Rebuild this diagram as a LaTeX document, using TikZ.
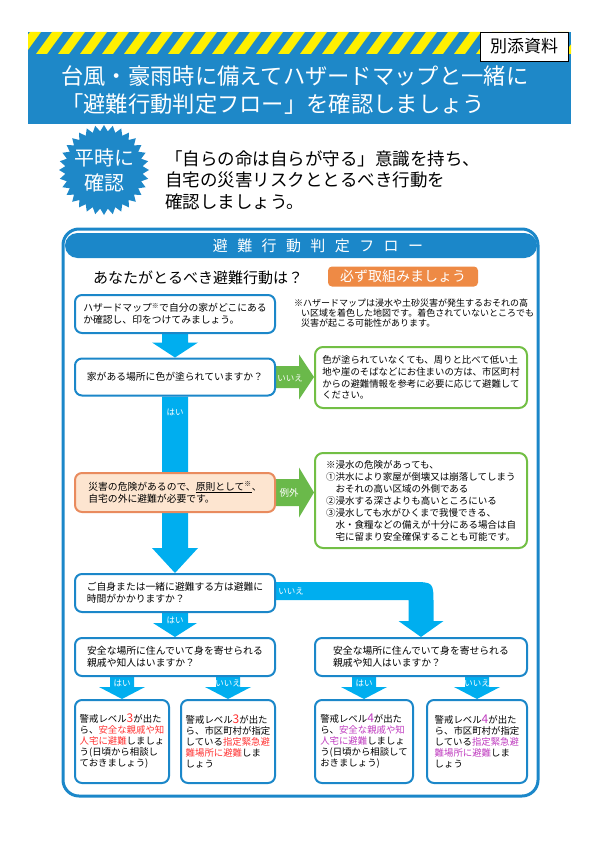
\documentclass[tikz,border=0pt]{standalone}
\usepackage{fontspec}
\setmainfont{Noto Sans CJK JP}
\usepackage{xcolor}
\usetikzlibrary{calc, positioning, shapes.geometric, backgrounds}

\definecolor{hdblue}{HTML}{1E88C8}
\definecolor{frblue}{HTML}{1B87C9}
\definecolor{cyanA}{HTML}{00AEEF}
\definecolor{grnA}{HTML}{6AB94A}
\definecolor{grnbox}{HTML}{72BF45}
\definecolor{orgpill}{HTML}{EE8A45}
\definecolor{orgfill}{HTML}{FDE5D0}
\definecolor{orgline}{HTML}{E98B5E}
\definecolor{stripeY}{HTML}{FFF000}
\definecolor{lvred}{HTML}{FF3333}
\definecolor{lvpur}{HTML}{C03CC0}

\newcommand{\gap}{\hspace{9.4pt}}
\newcommand{\lvnum}[2]{\textcolor{#1}{\fontsize{12}{11}\selectfont #2}}
% block arrows: colour, from, to, shaft half, head half, head length
\newcommand{\arrdown}[6]{%
  \fill[#1] let \p1=(#2), \p2=(#3) in
    (\x2-#4pt,\y1) -- (\x2+#4pt,\y1) -- (\x2+#4pt,\y2+#6pt) -- (\x2+#5pt,\y2+#6pt)
    -- (\x2,\y2) -- (\x2-#5pt,\y2+#6pt) -- (\x2-#4pt,\y2+#6pt) -- cycle;}
\newcommand{\arrright}[6]{%
  \fill[#1] let \p1=(#2), \p2=(#3) in
    (\x1,\y1+#4pt) -- (\x2-#6pt,\y1+#4pt) -- (\x2-#6pt,\y1+#5pt) -- (\x2,\y1)
    -- (\x2-#6pt,\y1-#5pt) -- (\x2-#6pt,\y1-#4pt) -- (\x1,\y1-#4pt) -- cycle;}

\tikzset{
  flowbox/.style={draw=frblue, line width=2pt, rounded corners=7pt, fill=white,
    align=left, minimum width=200, font=\fontsize{9.8}{12}\selectfont},
  greenbox/.style={draw=grnbox, line width=2pt, rounded corners=8pt, fill=white,
    align=left, minimum width=212, font=\fontsize{9.4}{11.7}\selectfont},
  levelbox/.style={draw=frblue, line width=2pt, rounded corners=7pt, fill=white,
    align=left, minimum height=83, inner sep=2pt, font=\fontsize{9.4}{11}\selectfont},
  arrlbl/.style={text=white, inner sep=0, font=\fontsize{8.5}{10}\selectfont},
}

\begin{document}
\begin{tikzpicture}[x=1pt, y=-1pt]
    \useasboundingbox (0,0) rectangle (600,848);

    % Header band
    \fill[hdblue] (28,32) rectangle (571,124);
    \begin{scope}
        \clip (28,32) rectangle (571,54);
        \foreach \i in {0,...,26}
            \fill[stripeY] (\i*22+14,54) -- ++(11,0) -- ++(16,-22) -- ++(-11,0) -- cycle;
    \end{scope}
    \node[draw=black, line width=0.8pt, fill=white, minimum width=88, minimum height=29,
          inner sep=0, font=\fontsize{17}{20}\selectfont] (attach) at (524,46.5) {別添資料};
    \node[anchor=west, inner sep=0, text=white, font=\fontsize{22.3}{26}\selectfont]
        (title1) at (61,76) {台風・豪雨時に備えてハザードマップと一緒に};
    \node[anchor=west, inner sep=0, text=white, font=\fontsize{22.3}{26}\selectfont]
        (title2) at (61,104) {「避難行動判定フロー」を確認しましょう};

    % Intro
    \node[star, star points=32, star point ratio=1.16, fill=hdblue, minimum size=90,
          inner sep=0] (burst) at (104,170) {};
    \node[align=center, text=white, inner sep=0, font=\fontsize{20}{25}\selectfont]
        (bursttxt) at (burst.center) {平時に\\確認};
    \node[anchor=west, align=left, inner sep=0, font=\fontsize{17.5}{21.5}\selectfont]
        (intro) at (165,180) {「自らの命は自らが守る」意識を持ち、\\自宅の災害リスクととるべき行動を\\確認しましょう。};

    % Frame and title bar
    \draw[frblue, line width=3pt, rounded corners=16pt] (63,229) rectangle (538,796);
    \node[fill=frblue, rounded corners=12.5pt, minimum width=472, minimum height=25,
          inner sep=0] (flowbar) at (301,245.5) {};
    \node[text=white, inner sep=0, font=\fontsize{15}{18}\selectfont] (flowttl) at (318,246)
        {避\gap 難\gap 行\gap 動\gap 判\gap 定\gap フ\gap ロ\gap ー};
    \node[anchor=west, inner sep=0, font=\fontsize{15}{18}\selectfont] (question) at (93,278)
        {あなたがとるべき避難行動は？};
    \node[fill=orgpill, rounded corners=4pt, minimum width=150, minimum height=20, inner sep=0,
          text=white, font=\fontsize{14}{16}\selectfont] (must) at (403,276.5) {必ず取組みましょう};

    % Step 1
    \node[flowbox, minimum height=38] (hzmap) at (175,314)
        {ハザードマップ\textsuperscript{※}で自分の家がどこにある\\か確認し、印をつけてみましょう。};
    \node[anchor=west, align=left, inner sep=0, font=\fontsize{9}{9.8}\selectfont] (hzmapnote) at (294,313)
        {※ハザードマップは浸水や土砂災害が発生するおそれの高\\\hspace{7pt}い区域を着色した地図です。着色されていないところでも\\\hspace{7pt}災害が起こる可能性があります。};

    % Step 2
    \node[flowbox, minimum height=37] (colored) at (175,377) {家がある場所に色が塗られていますか？};
    \node[greenbox, minimum height=61] (lowland) at (421,377.5)
        {色が塗られていなくても、周りと比べて低い土\\地や崖のそばなどにお住まいの方は、市区町村\\からの避難情報を参考に必要に応じて避難して\\ください。};

    % Step 3
    \node[flowbox, fill=orgfill, draw=orgline, minimum height=39] (outside) at (175,492.5)
        {災害の危険があるので、\underline{原則として\textsuperscript{※}}、\\自宅の外に避難が必要です。};
    \node[greenbox, minimum height=95, font=\fontsize{9.5}{12}\selectfont] (except) at (421,500.5)
        {※浸水の危険があっても、\\①洪水により家屋が倒壊又は崩落してしまう\\　おそれの高い区域の外側である\\②浸水する深さよりも高いところにいる\\③浸水しても水がひくまで我慢できる、\\　水・食糧などの備えが十分にある場合は自\\　宅に留まり安全確保することも可能です。};

    % Step 4
    \node[flowbox, minimum height=38] (slow) at (175,593)
        {ご自身または一緒に避難する方は避難に\\時間がかかりますか？};
    \node[flowbox, minimum height=38] (kinL) at (175,657)
        {安全な場所に住んでいて身を寄せられる\\親戚や知人はいますか？};
    \node[flowbox, minimum width=212, minimum height=38] (kinR) at (421,657)
        {安全な場所に住んでいて身を寄せられる\\親戚や知人はいますか？};

    % Level boxes
    \node[levelbox, minimum width=94] (lvA) at (122,741.5)
        {警戒レベル\lvnum{lvred}{3}が出た\\ら、\textcolor{lvred}{安全な親戚や知}\\\textcolor{lvred}{人宅に避難}しましょ\\う(日頃から相談し\\ておきましょう)};
    \node[levelbox, minimum width=94] (lvB) at (228,741.5)
        {警戒レベル\lvnum{lvred}{3}が出た\\ら、市区町村が指定\\している\textcolor{lvred}{指定緊急避}\\\textcolor{lvred}{難場所に避難}しま\\しょう};
    \node[levelbox, minimum width=98] (lvC) at (364,741.5)
        {警戒レベル\lvnum{lvpur}{4}が出た\\ら、\textcolor{lvpur}{安全な親戚や知}\\\textcolor{lvpur}{人宅に避難}しましょ\\う(日頃から相談して\\おきましょう)};
    \node[levelbox, minimum width=100] (lvD) at (477,741.5)
        {警戒レベル\lvnum{lvpur}{4}が出た\\ら、市区町村が指定\\している\textcolor{lvpur}{指定緊急避}\\\textcolor{lvpur}{難場所に避難}しま\\しょう};

    % Arrows
    \begin{pgfonlayer}{background}
        \arrdown{cyanA}{hzmap.south}{colored.north}{13}{23}{15}
        \arrright{grnA}{colored.east}{lowland.west}{11}{22.5}{15}
        \arrdown{cyanA}{colored.south}{slow.north}{13}{23}{25}
        \arrright{grnA}{outside.east}{except.west}{13.5}{25}{15}
        \arrdown{cyanA}{slow.south}{kinL.north}{13}{22}{14}
        \fill[cyanA] let \p1=(slow.east), \p2=(kinR.north) in
            (\x1,\y1+11pt) -- (\x2-9.5pt,\y1+11pt)
            .. controls (\x2+12.5pt,\y1+11pt) .. (\x2+12.5pt,\y1-11pt)
            -- (\x2+12.5pt,\y2+16pt) -- (\x2+22.5pt,\y2+16pt) -- (\x2,\y2)
            -- (\x2-22.5pt,\y2+16pt) -- (\x2-12.5pt,\y2+16pt) -- (\x2-12.5pt,\y1-7pt)
            -- (\x1,\y1-7pt) -- cycle;
        \arrdown{cyanA}{kinL.south}{lvA.north}{12}{23}{12}
        \arrdown{cyanA}{kinL.south}{lvB.north}{12}{23}{12}
        \arrdown{cyanA}{kinR.south}{lvC.north}{12}{23}{12}
        \arrdown{cyanA}{kinR.south}{lvD.north}{12}{23}{12}
    \end{pgfonlayer}

    % Arrow labels
    \node[arrlbl] (noA) at (290,378) {いいえ};
    \node[arrlbl] (yesA) at (175,412) {はい};
    \node[arrlbl, font=\fontsize{9.5}{11}\selectfont] (exc) at (289,493) {例外};
    \node[arrlbl] (noB) at (291,591) {いいえ};
    \node[arrlbl] (yesB) at (175,620) {はい};
    \node[arrlbl] (yesC) at (122,683) {はい};
    \node[arrlbl] (noC) at (228,683) {いいえ};
    \node[arrlbl] (yesD) at (364,683) {はい};
    \node[arrlbl] (noD) at (477,683) {いいえ};
\end{tikzpicture}
\end{document}
